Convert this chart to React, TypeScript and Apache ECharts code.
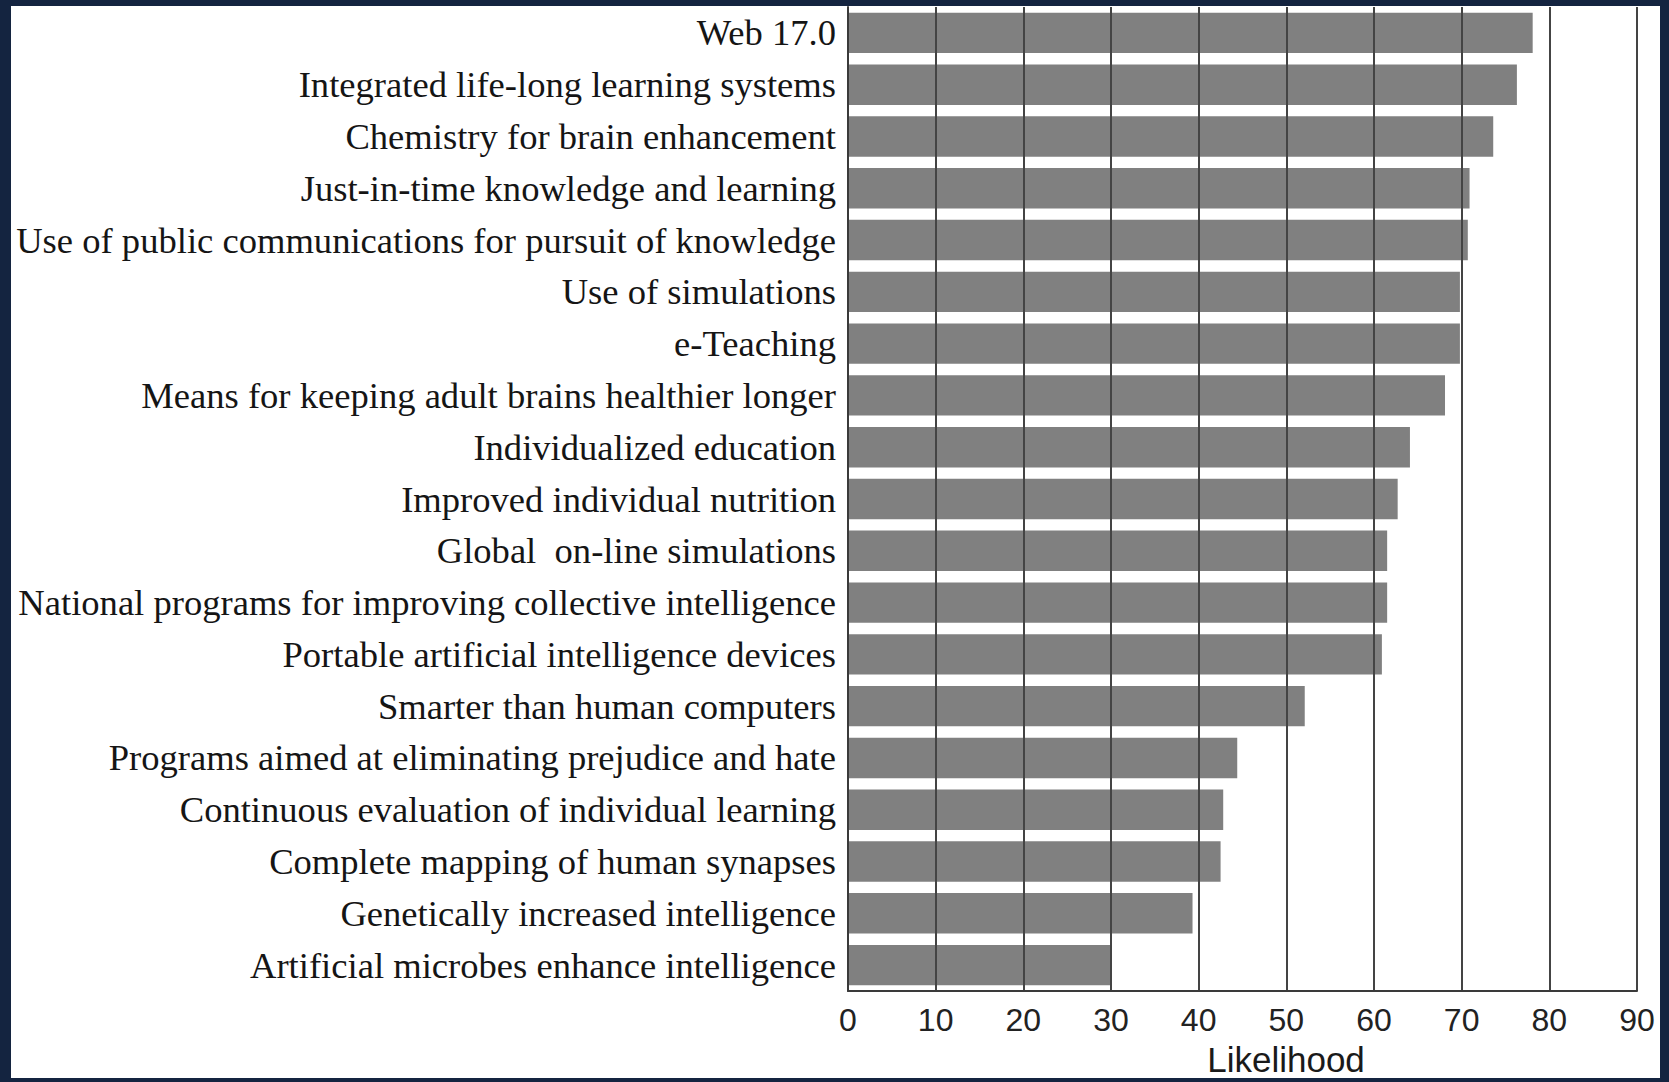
import React, { useEffect, useRef } from "react";
import * as echarts from "echarts";

const categories: string[] = [
  "Web 17.0",
  "Integrated life-long learning systems",
  "Chemistry for brain enhancement",
  "Just-in-time knowledge and learning",
  "Use of public communications for pursuit of knowledge",
  "Use of simulations",
  "e-Teaching",
  "Means for keeping adult brains healthier longer",
  "Individualized education",
  "Improved individual nutrition",
  "Global  on-line simulations",
  "National programs for improving collective intelligence",
  "Portable artificial intelligence devices",
  "Smarter than human computers",
  "Programs aimed at eliminating prejudice and hate",
  "Continuous evaluation of individual learning",
  "Complete mapping of human synapses",
  "Genetically increased intelligence",
  "Artificial microbes enhance intelligence",
];

const likelihood: number[] = [
  78.1, 76.3, 73.6, 70.9, 70.7, 69.8, 69.8, 68.1, 64.1, 62.7, 61.5, 61.5, 60.9,
  52.1, 44.4, 42.8, 42.5, 39.3, 30.0,
];

const xTicks = { min: 0, max: 90, interval: 10 };
const xAxisName = "Likelihood";

export default function App() {
  const ref = useRef<HTMLDivElement>(null);
  useEffect(() => {
    if (!ref.current) return;
    const chart = echarts.init(ref.current, undefined, { renderer: "svg" });
    chart.setOption({
      animation: false,
      backgroundColor: "#ffffff",
      grid: {
        left: 837,
        right: 23,
        top: 1,
        bottom: 87,
        containLabel: false,
        outerBoundsMode: "none",
      },
      xAxis: {
        type: "value",
        min: xTicks.min,
        max: xTicks.max,
        interval: xTicks.interval,
        z: 5,
        name: xAxisName,
        nameLocation: "middle",
        nameGap: 51,
        nameTextStyle: {
          fontFamily: "'Liberation Sans', Arial, sans-serif",
          fontSize: 35,
          color: "#1a1a1a",
          verticalAlign: "top",
          padding: [0, 0, 0, 87],
        },
        axisLine: { show: true, lineStyle: { color: "#3a3a3a", width: 2 } },
        axisTick: { show: false },
        splitLine: { show: true, lineStyle: { color: "#444444", width: 2 } },
        axisLabel: {
          fontFamily: "'Liberation Sans', Arial, sans-serif",
          fontSize: 32,
          color: "#222222",
          margin: 13,
        },
      },
      yAxis: {
        type: "category",
        data: categories,
        inverse: true,
        z: 5,
        axisLine: { show: true, lineStyle: { color: "#3a3a3a", width: 2 } },
        axisTick: { show: false },
        splitLine: { show: false },
        axisLabel: {
          fontFamily: "'Liberation Serif', 'Times New Roman', serif",
          fontSize: 36.6,
          color: "#151515",
          margin: 12,
        },
      },
      series: [
        {
          type: "bar",
          data: likelihood,
          z: 1,
          barCategoryGap: "22%",
          itemStyle: { color: "#808080" },
        },
      ],
    });
    return () => chart.dispose();
  }, []);

  return (
    <div
      style={{
        position: "fixed",
        left: 0,
        top: 0,
        width: 1669,
        height: 1082,
        background: "#142440",
      }}
    >
      <div
        ref={ref}
        style={{ position: "absolute", left: 11, top: 6, width: 1649, height: 1072 }}
      />
    </div>
  );
}
